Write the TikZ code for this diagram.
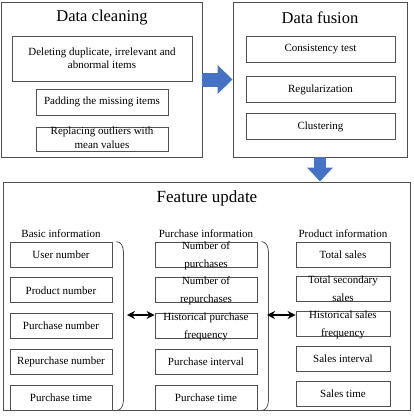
\documentclass[tikz,border=0pt]{standalone}
\usepackage{fontspec}
\setmainfont{Liberation Serif}
\usetikzlibrary{positioning, calc, arrows.meta}

\definecolor{lineGray}{HTML}{505050}
\definecolor{arrowBlue}{HTML}{4472C4}

\newcommand{\twolines}[3][1.38]{\smash{\raisebox{-2.8pt}{\def\arraystretch{#1}\begin{tabular}{@{}c@{}}#2\\#3\end{tabular}}}}

\begin{document}
\begin{tikzpicture}[
    x=1pt, y=-1pt,
    node distance=10pt,
    every node/.style={font=\fontsize{11}{13}\selectfont},
    panel/.style={rectangle, draw=lineGray, line width=0.9pt},
    item/.style={rectangle, draw=lineGray, line width=0.8pt,
                 minimum width=102pt, minimum height=25pt, inner sep=1pt, align=center},
    heading/.style={font=\fontsize{16.5}{19}\selectfont},
    blockarrow/.style={line width=14pt, arrowBlue, -{Triangle[length=15pt, width=28pt]}},
    link/.style={line width=1.4pt, {Stealth[length=8pt, width=8pt]}-{Stealth[length=8pt, width=8pt]}},
    bracket/.style={line width=0.8pt, lineGray}
]
\useasboundingbox (0,0) rectangle (413,418);

% data cleaning
\node[panel, minimum width=201pt, minimum height=155pt] (clean) at (101.5,79.5) {};
\node[heading] (cleantitle) at (102,18) {Data cleaning};
\node[item, minimum width=180pt, minimum height=45pt] (delete) at (102,58.5) {Deleting duplicate, irrelevant and\\abnormal items};
\node[item, minimum width=132pt, minimum height=26pt] (padding) at (102,102) {Padding the missing items};
\node[item, minimum width=132pt, minimum height=24pt] (replace) at (102,139) {\twolines[1.05]{Replacing outliers with}{mean values}};

% data fusion
\node[panel, minimum width=174pt, minimum height=155pt] (fusion) at (320,79.5) {};
\node[heading] (fusiontitle) at (320,18) {Data fusion};
\node[item, minimum width=149pt, minimum height=26pt] (consist) at (320.5,49) {Consistency test};
\node[item, minimum width=149pt, minimum height=26pt] (regular) at (320.5,89.5) {Regularization};
\node[item, minimum width=149pt, minimum height=26pt] (cluster) at (320.5,126.5) {Clustering};

% feature update
\node[panel, minimum width=407pt, minimum height=228pt] (feature) at (206.5,296) {};
\node[heading, font=\fontsize{17}{20}\selectfont] (featuretitle) at (207,198) {Feature update};

\node[item] (b1) at (61,254.5) {User number};
\node[item, below=of b1] (b2) {Product number};
\node[item, below=of b2] (b3) {Purchase number};
\node[item, below=of b3] (b4) {Repurchase number};
\node[item, below=of b4] (b5) {Purchase time};
\node[above=0pt of b1] (basic) {Basic information};

\node[item] (m1) at (206,254.5) {\twolines{Number of}{purchases}};
\node[item, below=of m1] (m2) {\twolines{Number of}{repurchases}};
\node[item, below=of m2] (m3) {\twolines{Historical purchase}{frequency}};
\node[item, below=of m3] (m4) {Purchase interval};
\node[item, below=of m4] (m5) {Purchase time};
\node[above=0pt of m1] (purchase) {Purchase information};

\node[item, minimum width=94pt] (r1) at (343,254.5) {Total sales};
\node[item, minimum width=94pt, below=9pt of r1] (r2) {\twolines{Total secondary}{sales}};
\node[item, minimum width=94pt, below=9pt of r2] (r3) {\twolines{Historical sales}{frequency}};
\node[item, minimum width=94pt, below=9pt of r3] (r4) {Sales interval};
\node[item, minimum width=94pt, below=9pt of r4] (r5) {Sales time};
\node[above=0pt of r1] (product) {Product information};

% brackets
\draw[bracket] ($(b1.north east)+(4,0)$) to[out=0, in=90] ++(7,10)
    -- ($(b5.south east)+(11,-10)$) to[out=-90, in=0] ++(-7,10);
\draw[bracket] ($(m1.north east)+(4,0)$) to[out=0, in=90] ++(7,10)
    -- ($(m5.south east)+(11,-10)$) to[out=-90, in=0] ++(-7,10);
\coordinate (basicout) at (127,315);
\coordinate (purchaseout) at (267,315);

% arrows
\draw[blockarrow] (clean.east) -- (fusion.west);
\draw[blockarrow, line width=12pt, -{Triangle[length=14pt, width=25pt]}] (fusion.south) -- (fusion.south |- feature.north);
\draw[link] (basicout) -- (basicout -| m3.west);
\draw[link] (purchaseout) -- (purchaseout -| r3.west);
\end{tikzpicture}
\end{document}
